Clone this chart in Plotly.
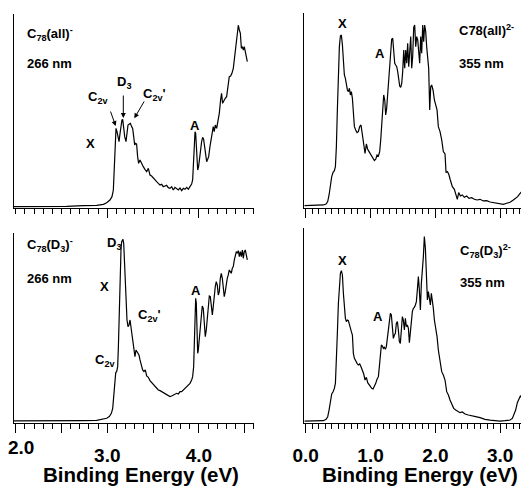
import plotly.graph_objects as go

# ---------------- data (binding energy in eV, intensity in arb. units) ----------------
tl_E = [1.981, 2.193, 2.375, 2.556, 2.738, 2.884, 2.957, 2.993, 3.029, 3.051, 3.066, 3.077, 3.088, 3.095, 3.106,
        3.117, 3.128, 3.139, 3.150, 3.160, 3.168, 3.179, 3.190, 3.204, 3.215, 3.226, 3.241, 3.252, 3.266, 3.277,
        3.288, 3.299, 3.310, 3.320, 3.331, 3.342, 3.357, 3.375, 3.393, 3.411, 3.430, 3.448, 3.466, 3.484, 3.503,
        3.521, 3.539, 3.557, 3.576, 3.594, 3.611, 3.630, 3.648, 3.666, 3.684, 3.703, 3.721, 3.739, 3.757, 3.776,
        3.794, 3.812, 3.830, 3.848, 3.867, 3.885, 3.903, 3.921, 3.932, 3.943, 3.950, 3.958, 3.965, 3.972, 3.979,
        3.987, 3.997, 4.008, 4.019, 4.030, 4.041, 4.052, 4.063, 4.074, 4.085, 4.096, 4.107, 4.121, 4.132, 4.143,
        4.157, 4.168, 4.179, 4.194, 4.208, 4.223, 4.237, 4.248, 4.259, 4.274, 4.288, 4.303, 4.317, 4.332, 4.347,
        4.361, 4.376, 4.387, 4.398, 4.409, 4.420, 4.431, 4.442, 4.453, 4.464, 4.475, 4.485, 4.496, 4.507, 4.518, 4.529]
tl_I = [5, 5, 7, 6, 8, 9, 12, 17, 25, 35, 55, 125, 205, 240, 230,
        210, 200, 225, 250, 265, 267, 240, 215, 200, 225, 250, 253, 255, 245, 240,
        215, 190, 195, 193, 155, 135, 145, 133, 125, 117, 110, 120, 100, 97, 90,
        87, 80, 75, 70, 72, 65, 67, 69, 62, 60, 65, 55, 63, 59, 55,
        61, 53, 60, 57, 63, 57, 65, 73, 85, 145, 205, 230, 225, 175, 125,
        115, 125, 145, 175, 200, 213, 207, 185, 155, 140, 147, 155, 185, 205, 230,
        245, 230, 250, 240, 265, 285, 325, 345, 315, 325, 330, 335, 375, 395, 397,
        405, 420, 450, 480, 495, 525, 550, 535, 525, 480, 485, 475, 485, 470, 455, 440]

tr_E = [-0.021, 0.093, 0.195, 0.272, 0.314, 0.339, 0.360, 0.380, 0.401, 0.422, 0.442, 0.458, 0.473, 0.488, 0.504,
        0.519, 0.535, 0.550, 0.566, 0.581, 0.596, 0.612, 0.627, 0.643, 0.658, 0.674, 0.689, 0.704, 0.720, 0.735,
        0.751, 0.771, 0.792, 0.812, 0.833, 0.853, 0.874, 0.895, 0.915, 0.936, 0.956, 0.977, 0.997, 1.018, 1.039,
        1.059, 1.080, 1.100, 1.121, 1.141, 1.157, 1.172, 1.188, 1.203, 1.219, 1.234, 1.249, 1.265, 1.280, 1.296,
        1.311, 1.326, 1.342, 1.357, 1.373, 1.388, 1.404, 1.419, 1.435, 1.450, 1.465, 1.481, 1.496, 1.512, 1.527,
        1.543, 1.558, 1.573, 1.589, 1.604, 1.620, 1.635, 1.650, 1.666, 1.681, 1.697, 1.712, 1.728, 1.743, 1.758,
        1.774, 1.789, 1.805, 1.820, 1.835, 1.851, 1.866, 1.882, 1.897, 1.913, 1.928, 1.943, 1.964, 1.985, 2.005,
        2.026, 2.046, 2.072, 2.098, 2.123, 2.149, 2.165, 2.185, 2.206, 2.231, 2.262, 2.293, 2.319, 2.339, 2.360,
        2.386, 2.416, 2.447, 2.483, 2.519, 2.560, 2.601, 2.643, 2.689, 2.740, 2.792, 2.843, 2.895, 2.946, 2.997,
        3.049, 3.100, 3.152, 3.203, 3.239, 3.270, 3.301, 3.332, 3.357]
tr_I = [8, 8, 9, 10, 13, 20, 40, 70, 95, 108, 113, 125, 185, 295, 415,
        485, 517, 520, 490, 430, 400, 390, 365, 355, 350, 360, 340, 350, 330, 285,
        245, 235, 227, 230, 245, 250, 225, 195, 165, 193, 177, 170, 163, 157, 150,
        143, 147, 160, 157, 170, 205, 245, 305, 340, 325, 280, 300, 345, 375, 410,
        475, 507, 510, 480, 435, 430, 425, 410, 390, 367, 363, 375, 410, 475, 420,
        475, 435, 495, 425, 485, 515, 420, 455, 543, 550, 485, 515, 505, 475, 435,
        515, 465, 550, 500, 550, 530, 485, 450, 420, 295, 365, 370, 355, 325, 310,
        295, 245, 230, 205, 170, 163, 107, 110, 103, 85, 65, 57, 40, 27, 47,
        37, 40, 33, 37, 30, 32, 27, 25, 27, 22, 23, 19, 17, 15, 13,
        12, 15, 18, 25, 30, 35, 43, 50, 63]

bl_E = [1.981, 2.193, 2.375, 2.556, 2.738, 2.884, 2.957, 2.993, 3.022, 3.044, 3.059, 3.070, 3.081, 3.092, 3.102,
        3.113, 3.121, 3.128, 3.135, 3.142, 3.150, 3.157, 3.164, 3.171, 3.179, 3.186, 3.193, 3.204, 3.215, 3.226,
        3.237, 3.248, 3.259, 3.270, 3.281, 3.291, 3.302, 3.313, 3.324, 3.335, 3.346, 3.357, 3.371, 3.386, 3.400,
        3.415, 3.430, 3.448, 3.466, 3.484, 3.503, 3.521, 3.539, 3.557, 3.576, 3.594, 3.611, 3.630, 3.648, 3.666,
        3.684, 3.703, 3.721, 3.739, 3.757, 3.776, 3.794, 3.812, 3.830, 3.848, 3.867, 3.885, 3.903, 3.921, 3.932,
        3.943, 3.950, 3.958, 3.965, 3.972, 3.979, 3.987, 3.994, 4.005, 4.016, 4.027, 4.037, 4.048, 4.059, 4.070,
        4.081, 4.092, 4.103, 4.114, 4.125, 4.136, 4.147, 4.157, 4.168, 4.179, 4.190, 4.201, 4.212, 4.223, 4.234,
        4.245, 4.256, 4.267, 4.277, 4.288, 4.299, 4.310, 4.321, 4.332, 4.343, 4.354, 4.365, 4.376, 4.387, 4.398,
        4.409, 4.420, 4.431, 4.442, 4.453, 4.464, 4.475, 4.485, 4.496, 4.507, 4.518, 4.529]
bl_I = [7, 7, 6, 7, 8, 9, 12, 15, 20, 30, 45, 80, 130, 152, 155,
        170, 230, 310, 410, 480, 525, 545, 552, 552, 540, 490, 410, 350, 310, 290,
        295, 310, 285, 265, 245, 215, 200, 220, 215, 210, 205, 190, 175, 160, 155,
        160, 142, 138, 128, 122, 118, 112, 105, 100, 98, 95, 92, 88, 85, 82,
        80, 82, 85, 88, 90, 88, 95, 95, 100, 102, 110, 115, 120, 130, 140,
        170, 250, 350, 375, 360, 280, 210, 220, 250, 290, 325, 352, 345, 290, 260,
        280, 310, 340, 382, 380, 350, 325, 350, 385, 410, 425, 415, 385, 395, 435,
        450, 435, 405, 380, 395, 425, 435, 445, 460, 455, 450, 465, 470, 490, 502,
        515, 510, 518, 500, 515, 500, 520, 495, 515, 520, 505, 490]

br_E = [-0.021, 0.144, 0.272, 0.314, 0.339, 0.360, 0.380, 0.401, 0.422, 0.442, 0.458, 0.473, 0.488, 0.504, 0.519,
        0.535, 0.550, 0.566, 0.581, 0.596, 0.612, 0.627, 0.643, 0.658, 0.674, 0.689, 0.704, 0.720, 0.735, 0.751,
        0.771, 0.792, 0.812, 0.833, 0.853, 0.874, 0.895, 0.915, 0.936, 0.956, 0.977, 0.997, 1.018, 1.039, 1.059,
        1.080, 1.100, 1.121, 1.136, 1.152, 1.167, 1.183, 1.198, 1.213, 1.229, 1.244, 1.260, 1.275, 1.290, 1.306,
        1.321, 1.337, 1.352, 1.368, 1.383, 1.398, 1.414, 1.429, 1.445, 1.460, 1.476, 1.491, 1.506, 1.522, 1.537,
        1.553, 1.568, 1.584, 1.599, 1.615, 1.630, 1.645, 1.661, 1.676, 1.692, 1.707, 1.722, 1.738, 1.753, 1.769,
        1.784, 1.799, 1.815, 1.830, 1.846, 1.861, 1.877, 1.892, 1.907, 1.923, 1.938, 1.954, 1.969, 1.985, 2.005,
        2.026, 2.046, 2.072, 2.098, 2.123, 2.149, 2.175, 2.201, 2.226, 2.252, 2.283, 2.314, 2.345, 2.380, 2.416,
        2.458, 2.509, 2.560, 2.622, 2.689, 2.766, 2.843, 2.920, 2.997, 3.075, 3.152, 3.188, 3.213, 3.239, 3.265,
        3.290, 3.311, 3.332, 3.347]
br_I = [2, 2, 3, 7, 15, 35, 65, 83, 90, 100, 115, 175, 265, 355, 415,
        445, 453, 440, 385, 330, 310, 300, 305, 303, 290, 275, 270, 260, 205, 190,
        180, 175, 170, 173, 165, 155, 143, 125, 133, 117, 110, 105, 100, 98, 105,
        115, 127, 135, 165, 210, 230, 227, 220, 223, 217, 225, 255, 285, 305, 325,
        320, 290, 250, 260, 265, 295, 300, 275, 240, 235, 270, 315, 305, 275, 310,
        285, 290, 280, 237, 275, 305, 330, 340, 343, 350, 360, 395, 435, 395, 335,
        415, 445, 495, 555, 520, 445, 365, 390, 360, 350, 385, 365, 340, 305, 285,
        255, 215, 185, 150, 140, 125, 90, 80, 65, 55, 40, 35, 30, 27, 29,
        23, 20, 17, 15, 12, 7, 5, 3, 2, 3, 5, 10, 20, 35, 57,
        70, 77, 73, 85]

left_tickvals = [2.0, 2.5, 3.0, 3.5, 4.0, 4.5]
left_ticktext = ["", "", "3.0", "", "4.0", ""]   # "2.0" drawn separately (sits at the page edge)
first_left_label = "2.0"
right_tickvals = [0.0, 1.0, 2.0, 3.0]
right_ticktext = ["0.0", "1.0", "2.0", "3.0"]
x_title = "Binding Energy (eV)"

# ---------------- layout helpers ----------------
OFF = 8                      # page body margin of the generated html
W, H = 529 - OFF, 487 - OFF  # figure size so it fits the window
FONT = "Liberation Sans, Arial, Helvetica, sans-serif"


def px(x):
    return (x - OFF) / W


def py(y):
    return 1 - (y - OFF) / H


fig = go.Figure()
line = dict(color="black", width=1.2)
fig.add_trace(go.Scatter(x=tl_E, y=tl_I, mode="lines", line=line, xaxis="x", yaxis="y", showlegend=False))
fig.add_trace(go.Scatter(x=tr_E, y=tr_I, mode="lines", line=line, xaxis="x2", yaxis="y2", showlegend=False))
fig.add_trace(go.Scatter(x=bl_E, y=bl_I, mode="lines", line=line, xaxis="x3", yaxis="y3", showlegend=False))
fig.add_trace(go.Scatter(x=br_E, y=br_I, mode="lines", line=line, xaxis="x4", yaxis="y4", showlegend=False))

tickfont = dict(family=FONT, size=19, color="black", weight="bold")


def xax(domain, rng, anchor, vals, text, labels):
    return dict(domain=domain, range=rng, anchor=anchor, showline=True, linecolor="black", linewidth=1.2,
                ticks="outside", ticklen=9, tickwidth=1.2, tickcolor="black",
                tickmode="array", tickvals=vals, ticktext=text, showticklabels=labels,
                tickfont=tickfont, ticklabelstandoff=6, showgrid=False, zeroline=False, automargin=False,
                minor=dict(dtick=0.1, tick0=0, ticks="outside", ticklen=5, tickwidth=1, tickcolor="black",
                           showgrid=False))


def yax(domain, rng, anchor):
    return dict(domain=domain, range=rng, anchor=anchor, showline=True, linecolor="black", linewidth=1.2,
                ticks="", showticklabels=False, showgrid=False, zeroline=False, automargin=False)


left_dom = [px(14), px(254)]
right_dom = [px(304.3), px(525)]

fig.update_layout(
    width=W, height=H, margin=dict(l=0, r=0, t=0, b=0),
    paper_bgcolor="white", plot_bgcolor="white",
    xaxis=xax(left_dom, [1.981, 4.602], "y", left_tickvals, left_ticktext, False),
    yaxis=yax([py(208), py(14)], [1, 583], "x"),
    xaxis2=xax(right_dom, [-0.022, 3.383], "y2", right_tickvals, right_ticktext, False),
    yaxis2=yax([py(208.3), py(13.3)], [0, 585], "x2"),
    xaxis3=xax(left_dom, [1.981, 4.602], "y3", left_tickvals, left_ticktext, True),
    yaxis3=yax([py(423.3), py(233.3)], [0, 570], "x3"),
    xaxis4=xax(right_dom, [-0.022, 3.383], "y4", right_tickvals, right_ticktext, True),
    yaxis4=yax([py(422.7), py(228.3)], [-3, 580], "x4"),
)

lab = dict(family=FONT, size=13, color="black", weight="bold")
texts = [
    # (text, x_px, y_px, xanchor)
    ("C<sub>78</sub>(all)<sup>-</sup>", 25, 34, "left"),
    ("266 nm", 25, 64, "left"),
    ("X", 90.5, 144, "center"),
    ("C<sub>2v</sub>", 98, 97, "center"),
    ("D<sub>3</sub>", 124, 83, "center"),
    ("C<sub>2v</sub>'", 154, 94, "center"),
    ("A", 195, 125, "center"),
    ("X", 342, 24, "center"),
    ("A", 380, 53, "center"),
    ("C78(all)<sup>2-</sup>", 457, 30, "left"),
    ("355 nm", 457, 64, "left"),
    ("C<sub>78</sub>(D<sub>3</sub>)<sup>-</sup>", 25, 245, "left"),
    ("266 nm", 25, 278, "left"),
    ("D<sub>3</sub>", 114, 243, "center"),
    ("X", 104, 286, "center"),
    ("C<sub>2v</sub>'", 149, 315, "center"),
    ("C<sub>2v</sub>", 105, 360, "center"),
    ("A", 196, 290, "center"),
    ("X", 342, 260, "center"),
    ("A", 378, 316, "center"),
    ("C<sub>78</sub>(D<sub>3</sub>)<sup>2-</sup>", 458, 251, "left"),
    ("355 nm", 458, 282, "left"),
]
for t, x, y, xa in texts:
    fig.add_annotation(text=t, x=px(x), y=py(y), xref="paper", yref="paper", xanchor=xa, yanchor="middle",
                       showarrow=False, font=lab)

# arrows (head position, tail position in page pixels)
arrows = [((115.7, 126), (110, 110)), ((123.3, 118), (123.3, 94)), ((134.3, 118.3), (145, 100))]
for (hx, hy), (tx, ty) in arrows:
    fig.add_annotation(text="", x=px(hx), y=py(hy), xref="paper", yref="paper", showarrow=True,
                       ax=tx - hx, ay=ty - hy, axref="pixel", ayref="pixel",
                       arrowhead=2, arrowsize=1, arrowwidth=1, arrowcolor="black")

# first tick label of the lower-left axis, nudged right as in the original
fig.add_annotation(text=first_left_label, x=px(21), y=py(447), xref="paper", yref="paper", showarrow=False,
                   xanchor="center", yanchor="middle", font=tickfont)

title_font = dict(family=FONT, size=20.5, color="black", weight="bold")
fig.add_annotation(text=x_title, x=px(140.6), y=py(474), xref="paper", yref="paper", showarrow=False,
                   xanchor="center", yanchor="middle", font=title_font)
fig.add_annotation(text=x_title, x=px(419.5), y=py(474), xref="paper", yref="paper", showarrow=False,
                   xanchor="center", yanchor="middle", font=title_font)

fig.write_html("out.html")
